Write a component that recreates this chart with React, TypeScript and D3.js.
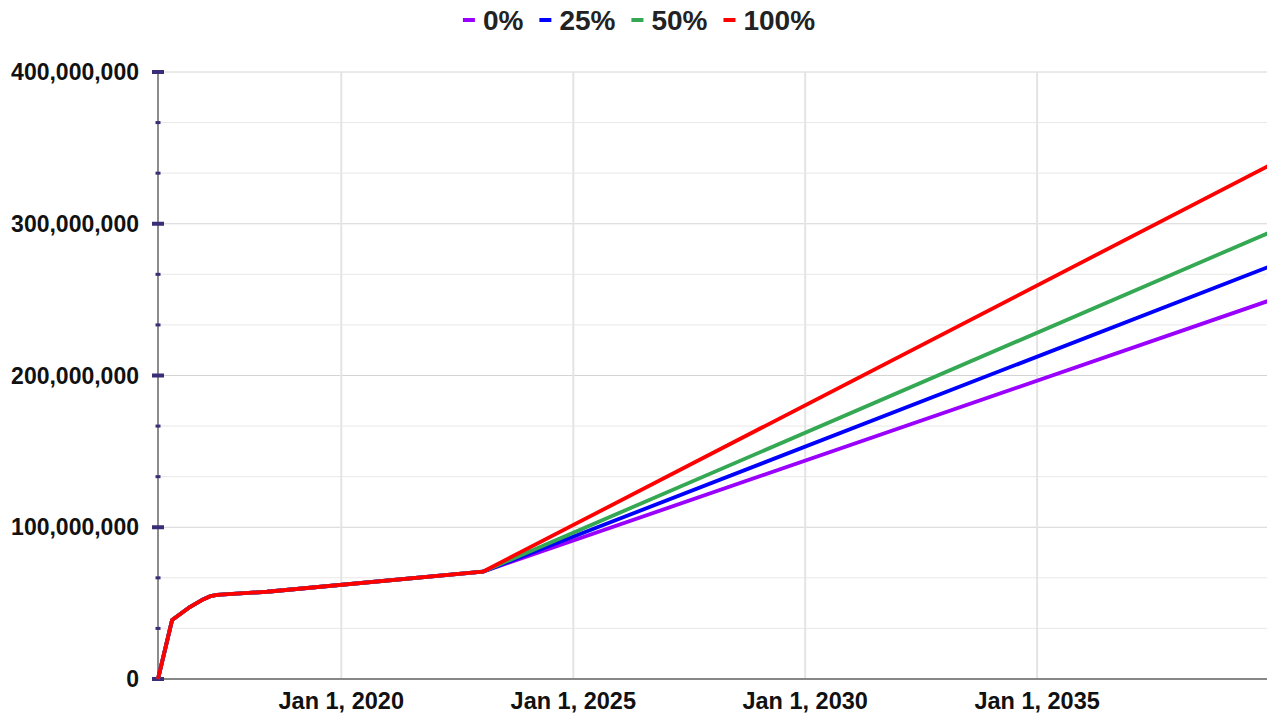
import React, { useEffect, useRef } from "react";
import * as d3 from "d3";

// historical part, shared by every scenario (millions)
const baseDates = ["2016-01-19", "2016-05-09", "2016-09-15", "2016-12-29", "2017-03-01", "2017-04-26", "2018-05-26", "2023-01-20"];
const baseValues = [0, 38.9, 46.8, 52.0, 54.4, 55.4, 57.5, 70.7];

const endDate = "2040-01-01";
const seriesNames = ["0%", "25%", "50%", "100%"];
const endValues = [249.3, 271.7, 294.1, 338.3];
const colors = ["#9900ff", "#0000ff", "#34a853", "#ff0000"];

const yTicks = [0, 100e6, 200e6, 300e6, 400e6];
const xTicks = ["2020-01-01", "2025-01-01", "2030-01-01", "2035-01-01"];

const W = 1267;
const H = 715;
const font = "'Liberation Sans', Arial, sans-serif";

export default function App() {
  const ref = useRef<SVGSVGElement>(null);

  useEffect(() => {
    const svg = d3.select(ref.current);
    svg.selectAll("*").remove();

    const parse = d3.utcParse("%Y-%m-%d");
    const margin = { left: 158, top: 72, bottom: 679, right: 1269 };

    const x = d3
      .scaleUtc()
      .domain([parse(baseDates[0])!, parse(endDate)!])
      .range([margin.left, margin.right]);
    const y = d3.scaleLinear().domain([0, 400e6]).range([margin.bottom, margin.top]);

    // horizontal grid, thirds between the labelled values
    const grid = d3.range(0, 12.5).map((i) => (i * 100e6) / 3);
    svg
      .append("g")
      .selectAll("line")
      .data(grid)
      .enter()
      .append("line")
      .attr("x1", margin.left)
      .attr("x2", W)
      .attr("y1", (d) => y(d))
      .attr("y2", (d) => y(d))
      .style("stroke", (d, i) => (i % 3 === 0 ? "#d4d4d4" : "#e8e8e8"))
      .style("stroke-width", 1);

    // vertical grid
    svg
      .append("g")
      .selectAll("line")
      .data(xTicks.map((d) => parse(d)!))
      .enter()
      .append("line")
      .attr("x1", (d) => x(d))
      .attr("x2", (d) => x(d))
      .attr("y1", margin.top)
      .attr("y2", margin.bottom)
      .style("stroke", "#e4e4e4")
      .style("stroke-width", 2);

    // axes lines
    svg
      .append("line")
      .attr("x1", margin.left)
      .attr("x2", margin.left)
      .attr("y1", margin.top)
      .attr("y2", margin.bottom)
      .style("stroke", "#666")
      .style("stroke-width", 1.5);
    svg
      .append("line")
      .attr("x1", margin.left)
      .attr("x2", W)
      .attr("y1", margin.bottom)
      .attr("y2", margin.bottom)
      .style("stroke", "#666")
      .style("stroke-width", 1.5);

    // tick marks on the y axis
    svg
      .append("g")
      .selectAll("rect")
      .data(grid)
      .enter()
      .append("rect")
      .attr("x", (d, i) => (i % 3 === 0 ? margin.left - 6 : margin.left - 2.5))
      .attr("width", (d, i) => (i % 3 === 0 ? 12 : 5))
      .attr("y", (d, i) => y(d) - (i % 3 === 0 ? 2 : 1.5))
      .attr("height", (d, i) => (i % 3 === 0 ? 4 : 3))
      .style("fill", "#3b2d78");

    // y labels
    svg
      .append("g")
      .selectAll("text")
      .data(yTicks)
      .enter()
      .append("text")
      .attr("x", 139)
      .attr("y", (d) => y(d))
      .attr("dy", "0.35em")
      .attr("text-anchor", "end")
      .style("font-family", font)
      .style("font-weight", "bold")
      .style("font-size", "23px")
      .style("fill", "#111")
      .text((d) => d3.format(",")(d));

    // x labels
    svg
      .append("g")
      .selectAll("text")
      .data(xTicks.map((d) => parse(d)!))
      .enter()
      .append("text")
      .attr("x", (d) => x(d))
      .attr("y", 709)
      .attr("text-anchor", "middle")
      .style("font-family", font)
      .style("font-weight", "bold")
      .style("font-size", "23.5px")
      .style("fill", "#111")
      .text((d) => d3.utcFormat("%b %-d, %Y")(d));

    // series
    const data = seriesNames.map((name, i) => {
      const pts = baseDates.map((d, j) => ({ date: parse(d)!, value: baseValues[j] * 1e6 }));
      pts.push({ date: parse(endDate)!, value: endValues[i] * 1e6 });
      return pts;
    });

    const line = d3
      .line<{ date: Date; value: number }>()
      .x((d) => x(d.date))
      .y((d) => y(d.value));

    svg
      .append("g")
      .selectAll("path")
      .data(data)
      .enter()
      .append("path")
      .attr("d", (d) => line(d))
      .style("fill", "none")
      .style("stroke", (d, i) => colors[i])
      .style("stroke-width", 3.8)
      .style("stroke-linejoin", "round");

    // legend, centred near the top
    const legend = svg.append("g");
    const items = seriesNames.map((name, i) => {
      const g = legend.append("g");
      g.append("rect")
        .attr("x", 0)
        .attr("y", 18)
        .attr("width", 12)
        .attr("height", 4)
        .style("fill", colors[i]);
      const t = g
        .append("text")
        .attr("x", 20)
        .attr("y", 29.5)
        .style("font-family", font)
        .style("font-weight", "bold")
        .style("font-size", "28px")
        .style("fill", "#222")
        .text(name);
      const w = 20 + (t.node() as SVGTextElement).getComputedTextLength();
      return { g, w };
    });
    const gap = 16;
    const total = d3.sum(items, (d) => d.w) + gap * (items.length - 1);
    let cx = 639 - total / 2;
    items.forEach((it) => {
      it.g.attr("transform", `translate(${cx},0)`);
      cx += it.w + gap;
    });
  }, []);

  return (
    <svg
      ref={ref}
      width={W}
      height={H}
      style={{ position: "absolute", left: 0, top: 0, background: "#fff" }}
    />
  );
}
